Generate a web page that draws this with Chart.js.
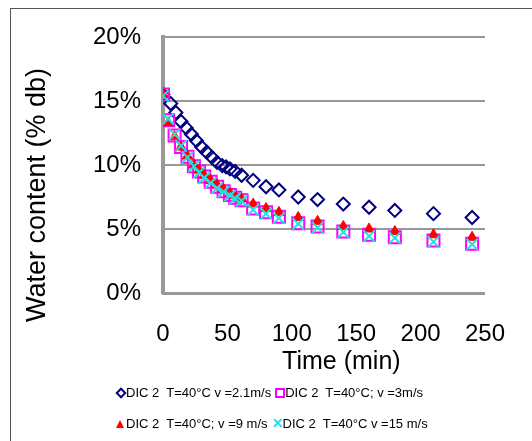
<!DOCTYPE html>
<html>
<head>
<meta charset="utf-8">
<script src="https://cdn.jsdelivr.net/npm/chart.js@4"></script>
<style>
  html, body { margin: 0; padding: 0; background: #fff; }
  #wrap { position: relative; width: 532px; height: 441px; overflow: hidden; font-family: "Liberation Sans", Arial, sans-serif; }
  #frame { position: absolute; left: 10px; top: 8px; width: 600px; height: 600px; border: 1px solid #555; box-sizing: border-box; }
  #chartBox { position: absolute; left: 0; top: 0; width: 532px; height: 441px; }
  #legend { position: absolute; left: 116px; top: 377px; font-size: 13px; color: #000; }
  .row { height: 31px; display: flex; align-items: center; }
  .item { display: flex; align-items: center; margin-right: 4px; }
  .lab { white-space: pre; }
  .mk { display: inline-block; width: 9px; height: 9px; margin-right: 1px; position: relative; }
  .mk.dia::after { content: ''; position: absolute; left: 1px; top: 1px; width: 4px; height: 4px; border: 2px solid #000080; transform: rotate(45deg); }
  .mk.sq::after { content: ''; position: absolute; left: 0; top: 0; width: 6px; height: 6px; border: 2px solid #ff00ff; }
  .mk.tri::after { content: ''; position: absolute; left: 0; top: 1px; border-left: 4px solid transparent; border-right: 4px solid transparent; border-bottom: 8px solid #ff0000; }
  .mk.x { color: #20e0e8; font-size: 14px; line-height: 9px; width: 10px; font-weight: bold; }
</style>
</head>
<body>
<div id="wrap">
  <div id="frame"></div>
  <div id="chartBox"><canvas id="chart" width="532" height="441"></canvas></div>
  <div id="legend">
    <div class="row">
      <span class="item"><span class="mk dia"></span><span class="lab" id="lab0"></span></span>
      <span class="item"><span class="mk sq"></span><span class="lab" id="lab1"></span></span>
    </div>
    <div class="row">
      <span class="item"><span class="mk tri"></span><span class="lab" id="lab2"></span></span>
      <span class="item"><span class="mk x">✕</span><span class="lab" id="lab3"></span></span>
    </div>
  </div>
</div>
<script>
// series names
const seriesNames = [
  'DIC 2  T=40°C v =2.1m/s',
  'DIC 2  T=40°C; v =3m/s',
  'DIC 2  T=40°C; v =9 m/s',
  'DIC 2  T=40°C v =15 m/s'
];

// time (min)
const timeV21 = [0, 6, 10, 14, 18, 22, 26, 30, 34, 38, 42, 46, 49, 52, 56, 61, 70, 80, 90, 105, 120, 140, 160, 180, 210, 240];
const timeOther = [0, 4, 9, 14, 19, 24, 28, 32, 37, 42, 47, 52, 56, 61, 70, 80, 90, 105, 120, 140, 160, 180, 210, 240];

// water content (% db)
const waterV21 = [15.5, 14.8, 14.1, 13.4, 12.9, 12.4, 11.9, 11.4, 11.0, 10.6, 10.2, 9.95, 9.85, 9.7, 9.5, 9.2, 8.8, 8.3, 8.05, 7.5, 7.3, 6.95, 6.7, 6.45, 6.2, 5.9];
const waterV3 = [15.5, 13.5, 12.3, 11.4, 10.65, 9.9, 9.5, 9.1, 8.7, 8.3, 7.95, 7.65, 7.45, 7.25, 6.6, 6.3, 5.95, 5.45, 5.2, 4.8, 4.55, 4.35, 4.1, 3.85];
const waterV9 = [15.5, 13.3, 12.2, 11.4, 10.7, 10.0, 9.6, 9.2, 8.8, 8.45, 8.1, 7.8, 7.6, 7.35, 6.95, 6.6, 6.3, 5.9, 5.6, 5.2, 5.0, 4.8, 4.55, 4.35];
const waterV15 = [15.4, 13.6, 12.4, 11.5, 10.6, 9.9, 9.4, 9.0, 8.6, 8.2, 7.9, 7.6, 7.4, 7.2, 6.5, 6.2, 5.85, 5.4, 5.1, 4.75, 4.45, 4.3, 4.0, 3.8];

// y ticks
const yTicks = [0, 5, 10, 15, 20];

seriesNames.forEach((n, i) => { document.getElementById('lab' + i).textContent = n; });

function pts(xs, ys) { return xs.map((x, i) => ({ x: x, y: ys[i] })); }

const FONT = '"Liberation Sans", Arial, sans-serif';

new Chart(document.getElementById('chart'), {
  type: 'scatter',
  data: {
    datasets: [
      { label: seriesNames[0], data: pts(timeV21, waterV21), pointStyle: 'rectRot', pointRadius: 6.5,
        borderColor: '#000080', backgroundColor: 'rgba(255,255,255,0)', borderWidth: 2, order: 3 },
      { label: seriesNames[1], data: pts(timeOther, waterV3), pointStyle: 'rect', pointRadius: 8.5,
        borderColor: '#ff00ff', backgroundColor: 'rgba(255,255,255,0)', borderWidth: 2, order: 2 },
      { label: seriesNames[2], data: pts(timeOther, waterV9), pointStyle: 'triangle', pointRadius: 6,
        borderColor: '#ff0000', backgroundColor: '#ff0000', borderWidth: 1, order: 1 },
      { label: seriesNames[3], data: pts(timeOther, waterV15), pointStyle: 'crossRot', pointRadius: 8,
        borderColor: '#20e0e8', backgroundColor: '#20e0e8', borderWidth: 2, order: 0 }
    ]
  },
  options: {
    responsive: false,
    animation: false,
    layout: { padding: { left: 0, right: 44, top: 37, bottom: 64 } },
    plugins: { legend: { display: false }, tooltip: { enabled: false } },
    scales: {
      x: {
        type: 'linear', min: 0, max: 250,
        afterFit: s => { s.height = 84; },
        ticks: { stepSize: 50, padding: 27, color: '#000', font: { family: FONT, size: 24 } },
        grid: { display: false, drawTicks: false },
        border: { display: true, color: '#999', width: 3 },
        // trailing/leading spaces nudge the title like in the original
        title: { display: true, text: '     Time (min)', color: '#000', padding: 0, font: { family: FONT, size: 25 } }
      },
      y: {
        min: 0, max: 20,
        afterFit: s => { s.width = 163; },
        afterBuildTicks: s => { s.ticks = yTicks.map(v => ({ value: v })); },
        ticks: { padding: 22, color: '#000', font: { family: FONT, size: 24 }, callback: v => v + '%' },
        grid: { color: '#999', lineWidth: 2, drawTicks: false },
        border: { display: true, color: '#999', width: 4 },
        title: { display: true, text: 'Water content (% db)        ', color: '#000', padding: { top: 21, bottom: 0 }, font: { family: FONT, size: 27 } }
      }
    }
  }
});
</script>
</body>
</html>
